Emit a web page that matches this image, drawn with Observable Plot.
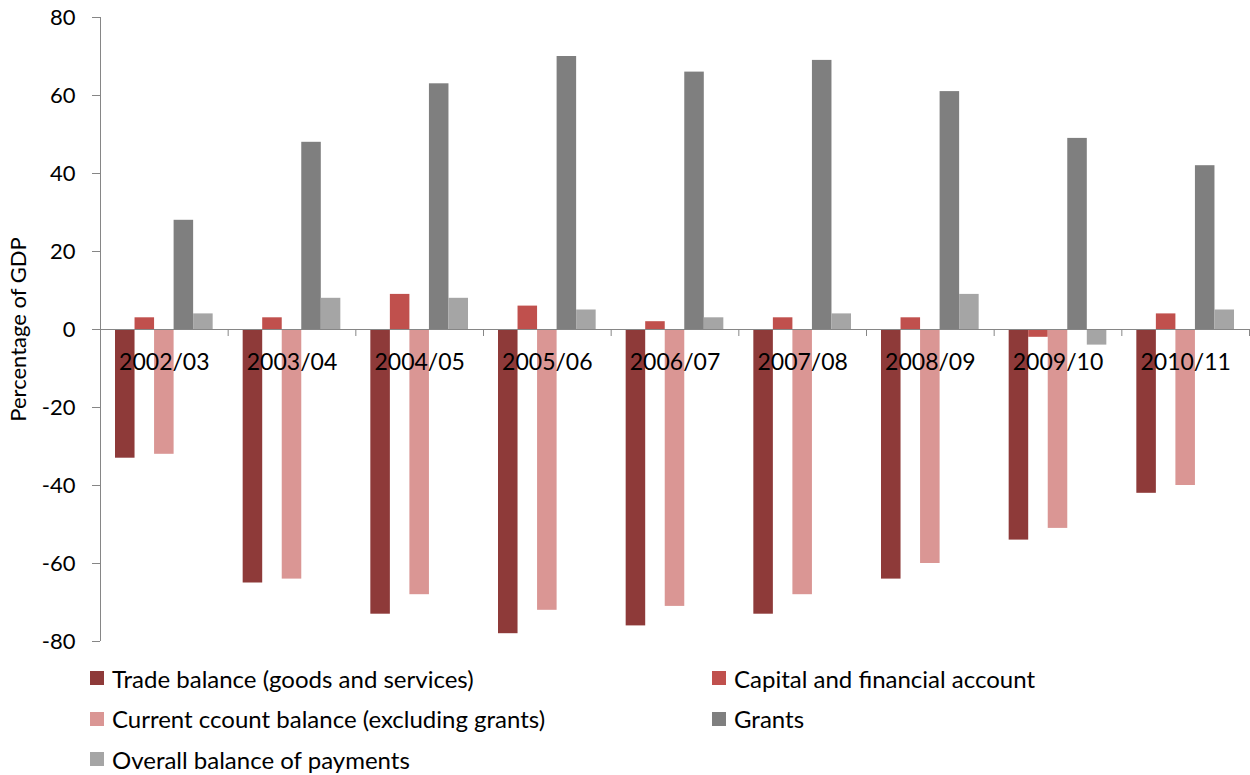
<!DOCTYPE html>
<html><head><meta charset="utf-8">
<script src="https://cdn.jsdelivr.net/npm/d3@7"></script>
<script src="https://cdn.jsdelivr.net/npm/@observablehq/plot@0.6"></script>
<style>
body{margin:0;background:#fff;font-family:Lato,sans-serif;}
#wrap{position:relative;width:1250px;height:775px;overflow:hidden;}
#legend{position:absolute;left:90px;top:658px;display:grid;grid-template-columns:622px auto;grid-auto-rows:40.5px;font-size:24px;color:#000;font-family:Lato,sans-serif;}
.item{display:flex;align-items:center;white-space:nowrap;}
.sw{width:14px;height:14px;margin-right:8px;flex:none;}
</style></head><body>
<div id="wrap"><div id="chart"></div><div id="legend"></div></div>
<script>
const years = ["2002/03","2003/04","2004/05","2005/06","2006/07","2007/08","2008/09","2009/10","2010/11"];
const seriesNames = [
  "Trade balance (goods and services)",
  "Capital and financial account",
  "Current ccount balance (excluding grants)",
  "Grants",
  "Overall balance of payments"
];
const seriesColors = ["#8E3A39","#C0504D","#DA9694","#7F7F7F","#A5A5A5"];
const tradeBalance   = [-33,-65,-73,-78,-76,-73,-64,-54,-42];
const capitalAccount = [3,3,9,6,2,3,3,-2,4];
const currentAccount = [-32,-64,-68,-72,-71,-68,-60,-51,-40];
const grants         = [28,48,63,70,66,69,61,49,42];
const overallBalance = [4,8,8,5,3,4,9,-4,5];
const yTicks = [-80,-60,-40,-20,0,20,40,60,80];

const seriesValues = [tradeBalance, capitalAccount, currentAccount, grants, overallBalance];

const W = 1250, H = 660, mt = 17, mb = 19, ml = 100, mr = 1;
const bw = (W - ml - mr) / years.length;
const barW = bw * 0.153;
const off = (bw - seriesNames.length * barW) / 2;
const axisGray = "#868686";

const barMarks = seriesValues.map((vals, i) =>
  Plot.barY(years.map((y, j) => ({year: y, value: vals[j]})), {
    x: "year", y: "value", fill: seriesColors[i],
    insetLeft: off + i * barW,
    insetRight: bw - off - (i + 1) * barW
  })
);

const chart = Plot.plot({
  width: W, height: H,
  marginTop: mt, marginBottom: mb, marginLeft: ml, marginRight: mr,
  style: {fontFamily: "Lato, sans-serif", fontSize: "22px", color: "#000", background: "#fff"},
  x: {domain: years, padding: 0, round: false, axis: null},
  y: {domain: [-80, 80]},
  marks: [
    ...barMarks,
    Plot.ruleY([0], {stroke: axisGray}),
    Plot.ruleX([years[0]], {x: d => d, dx: -bw / 2, stroke: axisGray}),
    Plot.ruleX(years, {x: d => d, dx: bw / 2, y1: 0, y2: 0, insetBottom: -7, stroke: axisGray}),
    Plot.axisY({ticks: yTicks, tickSize: 8, tickPadding: 17, stroke: axisGray, fill: "#000", fontSize: 22,
      tickFormat: d => String(d).replace("−","-"),
      label: "Percentage of GDP", labelAnchor: "center", labelArrow: "none", labelOffset: 90}),
    Plot.text(years, {x: d => d, y: () => 0, dy: 33, fontSize: 23, fill: "#000"})
  ]
});
document.getElementById("chart").appendChild(chart);

const legend = document.getElementById("legend");
seriesNames.forEach((name, i) => {
  const it = document.createElement("div");
  it.className = "item";
  const sw = document.createElement("span");
  sw.className = "sw";
  sw.style.background = seriesColors[i];
  const tx = document.createElement("span");
  tx.textContent = name;
  it.appendChild(sw); it.appendChild(tx);
  legend.appendChild(it);
});
</script>
</body></html>
